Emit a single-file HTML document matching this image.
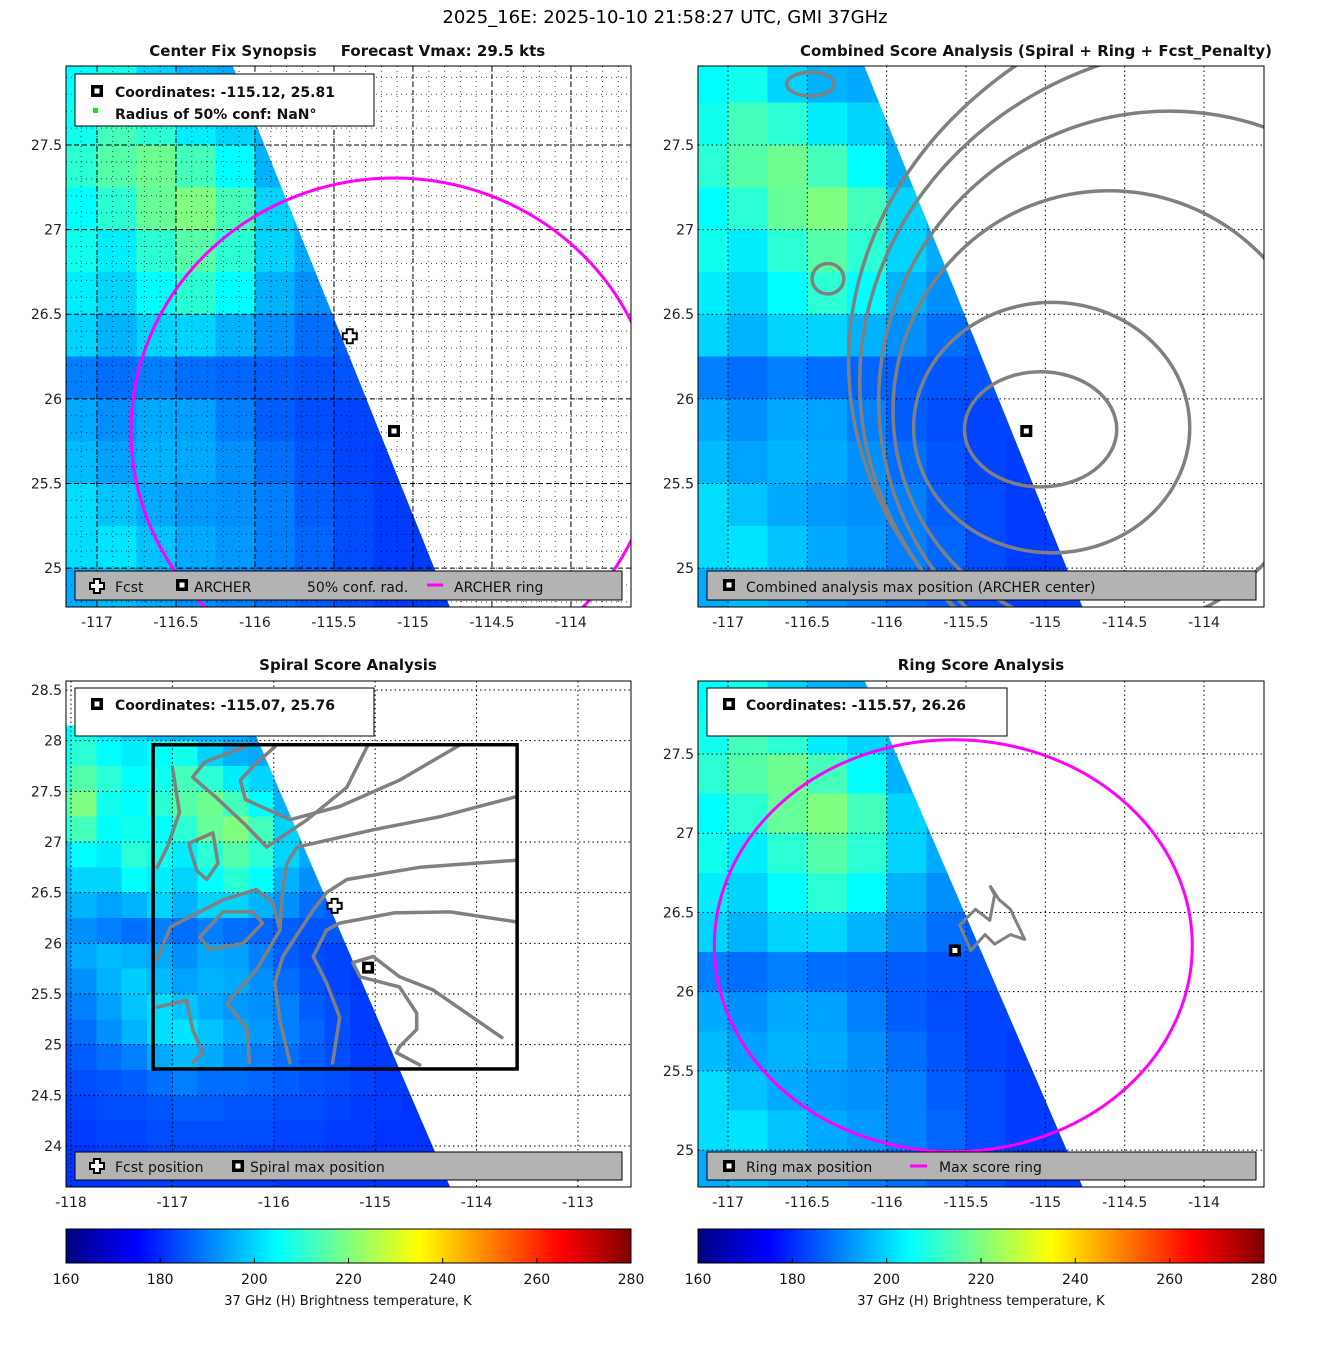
<!DOCTYPE html>
<html><head><meta charset="utf-8"><style>
html,body{margin:0;padding:0;background:#fff;}
svg{display:block;font-family:"DejaVu Sans","Liberation Sans",sans-serif;}
</style></head><body>
<svg id="fig" width="1317" height="1350" viewBox="0 0 1317 1350" xmlns="http://www.w3.org/2000/svg">
<defs>
<linearGradient id="jet" x1="0" x2="1" y1="0" y2="0">
<stop offset="0" stop-color="#000080"/><stop offset="0.125" stop-color="#0000ff"/><stop offset="0.375" stop-color="#00ffff"/><stop offset="0.625" stop-color="#ffff00"/><stop offset="0.875" stop-color="#ff0000"/><stop offset="1" stop-color="#800000"/>
</linearGradient>
</defs>
<text x="665" y="23" font-size="18" text-anchor="middle">2025_16E: 2025-10-10 21:58:27 UTC, GMI 37GHz</text>
<g id="root"></g>
</svg>
<script>
// ---- data ----
const tbGridLonLeft = -118.25, tbGridLatTop = 28.75, tbGridStep = 0.25;
const tbRows = [
"0 0 0 0 0 0 0 0 0 0 0 0 0 0 0 0",
"200 203 201 197 195 193 192 192 0 0 0 0 0 0 0 0",
"205 207 203 200 197 196 196 195 192 0 0 0 0 0 0 0",
"207 210 205 203 205 207 200 196 195 193 0 0 0 0 0 0",
"210 215 210 205 207 213 210 203 200 196 0 0 0 0 0 0",
"215 220 207 205 210 215 218 213 205 196 0 0 0 0 0 0",
"210 213 205 207 205 210 217 220 213 200 195 0 0 0 0 0",
"200 205 203 210 207 203 210 215 210 200 195 0 0 0 0 0",
"196 200 200 205 203 200 205 210 205 196 192 188 0 0 0 0",
"194 196 194 196 200 196 200 200 196 192 188 186 0 0 0 0",
"192 192 190 188 190 188 190 188 187 186 185 185 184 0 0 0",
"192 195 197 196 195 192 195 194 190 186 184 183 183 0 0 0",
"190 192 196 199 197 194 196 195 192 188 185 183 182 0 0 0",
"188 190 194 198 201 198 195 193 192 190 186 184 182 182 0 0",
"186 188 192 196 201 202 198 195 193 190 187 184 182 182 0 0",
"184 186 188 190 195 197 195 192 190 188 186 184 182 182 0 0",
"183 184 185 186 188 190 188 188 187 186 185 184 183 182 182 0",
"182 183 184 184 185 186 186 185 185 184 184 183 182 182 181 0",
"181 182 183 183 184 184 184 184 184 183 183 182 182 181 181 181",
"181 181 182 182 183 183 183 183 182 182 182 181 181 181 181 181",
"181 181 181 182 182 182 182 182 182 181 181 181 181 181 181 181"
];
const swathTopLat = 28.15, swathEdgeRefLat = 26.5, swathEdgeRefLon = -115.51, swathEdgeSlope = 0.43;
const archerPos = [-115.12, 25.81];
const fcstPos = [-115.4, 26.37];
const spiralMax = [-115.07, 25.76];
const ringMax = [-115.57, 26.26];
const ringP1 = [1.665, 1.495];
const ringP4Center = [-115.58, 26.29];
const ringP4 = [1.506, 1.3];
const combCx = [-115.03, -114.96, -114.6, -114.22, -113.84, -113.4, -116.37, -116.48];
const combCy = [25.82, 25.83, 25.93, 25.99, 26.1, 26.22, 26.71, 27.86];
const combRx = [0.48, 0.87, 1.36, 1.83, 2.33, 2.84, 0.1, 0.15];
const combRy = [0.34, 0.74, 1.3, 1.71, 2.0, 2.25, 0.09, 0.07];
const spiralContours = [
[[-113.60,27.45],[-114.36,27.25],[-115.02,27.12],[-115.77,26.95],[-115.87,26.79],[-115.91,26.56],[-115.94,26.13],[-116.17,25.74],[-116.46,25.41],[-116.26,25.15],[-116.24,24.82]],
[[-113.60,26.82],[-114.56,26.75],[-115.28,26.63],[-115.48,26.50],[-115.61,26.33],[-115.74,26.13],[-115.91,25.87],[-115.99,25.61],[-115.94,25.24],[-115.84,24.82]],
[[-113.60,26.21],[-114.26,26.31],[-114.81,26.30],[-115.35,26.20],[-115.48,26.13],[-115.61,25.87],[-115.48,25.61],[-115.35,25.27],[-115.42,24.82]],
[[-113.75,25.07],[-114.43,25.54],[-114.76,25.67],[-115.02,25.87],[-115.22,25.81],[-115.15,25.67],[-114.76,25.57],[-114.59,25.31],[-114.59,25.15],[-114.76,24.98],[-114.79,24.92],[-114.56,24.80]],
[[-114.16,27.96],[-114.76,27.61],[-115.35,27.35],[-115.84,27.22],[-116.28,27.42],[-116.33,27.61],[-116.19,27.76],[-115.99,27.94]],
[[-115.08,27.94],[-115.28,27.54],[-115.67,27.22],[-116.07,26.95],[-116.28,27.17],[-116.58,27.45],[-116.80,27.64],[-116.68,27.79],[-116.28,27.94]],
[[-117.00,27.74],[-116.93,27.29],[-117.05,26.95],[-117.15,26.75]],
[[-116.83,26.99],[-116.60,27.09],[-116.55,26.79],[-116.66,26.63],[-116.76,26.72],[-116.83,26.95],[-116.83,26.99]],
[[-116.73,26.06],[-116.50,26.31],[-116.21,26.31],[-116.11,26.20],[-116.30,26.00],[-116.63,25.94],[-116.73,26.06]],
[[-117.15,25.84],[-117.02,26.16],[-116.50,26.43],[-116.17,26.53],[-116.01,26.40],[-115.94,26.13]],
[[-117.15,25.37],[-116.86,25.44],[-116.80,25.15],[-116.70,24.92],[-116.80,24.82]]
];
const spiralBoxLon = [-117.19, -113.60];
const spiralBoxLat = [27.96, 24.76];
const ringContour = [[-115.35,26.67],[-115.29,26.58],[-115.22,26.52],[-115.13,26.33],[-115.22,26.36],[-115.32,26.30],[-115.38,26.36],[-115.47,26.26],[-115.54,26.42],[-115.44,26.52],[-115.35,26.45],[-115.32,26.61],[-115.35,26.67]];
const xTicksA = [-117, -116.5, -116, -115.5, -115, -114.5, -114];
const yTicksA = [25, 25.5, 26, 26.5, 27, 27.5];
const xTicksB = [-118, -117, -116, -115, -114, -113];
const yTicksB = [24, 24.5, 25, 25.5, 26, 26.5, 27, 27.5, 28, 28.5];
const cbTicks = [160, 180, 200, 220, 240, 260, 280];

// ---- helpers ----
const NS = "http://www.w3.org/2000/svg";
const root = document.getElementById('root');
function mk(tag, attrs, parent) {
  const e = document.createElementNS(NS, tag);
  for (const k in attrs) e.setAttribute(k, attrs[k]);
  (parent || root).appendChild(e);
  return e;
}
function jet(v) {
  let t = (v - 160) / 120; t = Math.max(0, Math.min(1, t));
  const f = (c) => Math.max(0, Math.min(1, 1.5 - Math.abs(4 * t - c)));
  return `rgb(${Math.round(255*f(3))},${Math.round(255*f(2))},${Math.round(255*f(1))})`;
}
const tbGrid = tbRows.map(r => r.split(' ').map(Number));
function edgeLon(lat) { return swathEdgeRefLon + (swathEdgeRefLat - lat) * swathEdgeSlope; }

function makePanel(id, x0, x1, y0, y1, lonMin, lonMax, latMin, latMax) {
  const P = {id, x0, x1, y0, y1};
  P.x = (lon) => x0 + (lon - lonMin) / (lonMax - lonMin) * (x1 - x0);
  P.y = (lat) => y0 + (latMax - lat) / (latMax - latMin) * (y1 - y0);
  P.g = mk('g', {});
  
  
  const cp = mk('clipPath', {id: id + '-clip'}, P.g);
  mk('rect', {x: x0, y: y0, width: x1 - x0, height: y1 - y0}, cp);
  const sp = mk('clipPath', {id: id + '-swath'}, P.g);
  const pts = [[-119, swathTopLat], [edgeLon(swathTopLat), swathTopLat], [edgeLon(22), 22], [-119, 22]];
  mk('polygon', {points: pts.map(p => P.x(p[0]) + ',' + P.y(p[1])).join(' ')}, sp);
  P.inner = mk('g', {'clip-path': `url(#${id}-clip)`}, P.g);
  return P;
}
function drawHeat(P) {
  const hg = mk('g', {'clip-path': `url(#${P.id}-swath)`, 'shape-rendering': 'crispEdges'}, P.inner);
  
  
  tbGrid.forEach((row, i) => row.forEach((v, j) => {
    if (!v) return;
    const lonL = tbGridLonLeft + j * tbGridStep, latT = tbGridLatTop - i * tbGridStep;
    const xa = P.x(lonL), xb = P.x(lonL + tbGridStep), ya = P.y(latT), yb = P.y(latT - tbGridStep);
    const r = mk('rect', {x: xa, y: ya, width: xb - xa + 0.6, height: yb - ya + 0.6, fill: jet(v)}, hg);
    
    
  }));
}
function drawGrid(P, xt, yt, dense) {
  const gg = mk('g', {}, P.inner);
  
  
  if (dense) {
    for (let lon = -118; lon <= -113; lon += 0.1) {
      const x = P.x(lon); if (x < P.x0 || x > P.x1) continue;
      mk('line', {x1: x, x2: x, y1: P.y0, y2: P.y1, stroke: '#000', 'stroke-width': 1, 'stroke-dasharray': '1,4', opacity: 0.7}, gg);
    }
    for (let lat = 24.5; lat <= 28.5; lat += 0.1) {
      const y = P.y(lat); if (y < P.y0 || y > P.y1) continue;
      mk('line', {x1: P.x0, x2: P.x1, y1: y, y2: y, stroke: '#000', 'stroke-width': 1, 'stroke-dasharray': '1,4', opacity: 0.7}, gg);
    }
  }
  const da = dense ? '5,3' : '1.5,3';
  xt.forEach(v => { const x = P.x(v); mk('line', {x1: x, x2: x, y1: P.y0, y2: P.y1, stroke: '#000', 'stroke-width': 1, 'stroke-dasharray': da}, gg); });
  yt.forEach(v => { const y = P.y(v); mk('line', {x1: P.x0, x2: P.x1, y1: y, y2: y, stroke: '#000', 'stroke-width': 1, 'stroke-dasharray': da}, gg); });
}
function drawAxes(P, xt, yt, xLabelY) {
  const b = mk('rect', {x: P.x0, y: P.y0, width: P.x1 - P.x0, height: P.y1 - P.y0, fill: 'none', stroke: '#000', 'stroke-width': 1}, P.g);
  
  
  xt.forEach(v => {
    const t = mk('text', {x: P.x(v), y: xLabelY, 'font-size': 14, 'text-anchor': 'middle', fill: '#222'}, P.g);
    t.textContent = String(v);
    
    
  });
  yt.forEach(v => {
    const t = mk('text', {x: P.x0 - 4, y: P.y(v) + 5, 'font-size': 14, 'text-anchor': 'end', fill: '#222'}, P.g);
    t.textContent = String(v);
    
    
  });
}
function squareMarker(parent, x, y) {
  const g = mk('g', {}, parent);
  mk('rect', {x: x - 6, y: y - 6, width: 12, height: 12, fill: '#000'}, g);
  mk('rect', {x: x - 2.5, y: y - 2.5, width: 5, height: 5, fill: '#fff'}, g);
  return g;
}
function plusMarker(parent, x, y) {
  const g = mk('g', {}, parent);
  const d = `M${x-3},${y-7}h6v4h4v6h-4v4h-6v-4h-4v-6h4z`;
  mk('path', {d, fill: '#fff', stroke: '#000', 'stroke-width': 2}, g);
  return g;
}
function txt(parent, x, y, s, size, bold, anchor) {
  const t = mk('text', {x, y, 'font-size': size, 'font-weight': bold ? 'bold' : 'normal', 'text-anchor': anchor || 'start', fill: '#111'}, parent);
  t.textContent = s;
  return t;
}
function polyPath(P, pts) { return pts.map((p, i) => (i ? 'L' : 'M') + P.x(p[0]).toFixed(1) + ',' + P.y(p[1]).toFixed(1)).join(''); }
function ellipse(P, cx, cy, rx, ry, parent, color, w) {
  return mk('ellipse', {cx: P.x(cx), cy: P.y(cy), rx: Math.abs(P.x(cx + rx) - P.x(cx)), ry: Math.abs(P.y(cy + ry) - P.y(cy)), fill: 'none', stroke: color, 'stroke-width': w}, parent);
}

// ---- panels ----
const P1 = makePanel('center-fix-panel', 66, 631, 66, 607, -117.196, -113.62, 24.77, 27.967);
const P2 = makePanel('combined-score-panel', 698, 1264, 66, 607, -117.189, -113.622, 24.77, 27.967);
const P3 = makePanel('spiral-score-panel', 66, 631, 681, 1187, -118.049, -112.477, 23.595, 28.589);
const P4 = makePanel('ring-score-panel', 698, 1264, 681, 1187, -117.189, -113.622, 24.767, 27.961);

[P1, P2, P3, P4].forEach(drawHeat);
drawGrid(P1, xTicksA, yTicksA, true);
drawGrid(P2, xTicksA, yTicksA, false);
drawGrid(P3, xTicksB, yTicksB, false);
drawGrid(P4, xTicksA, yTicksA, false);

let e = ellipse(P1, archerPos[0], archerPos[1], ringP1[0], ringP1[1], P1.inner, '#ff00ff', 3);
 
combCx.forEach((cx, i) => {
  const c = ellipse(P2, cx, combCy[i], combRx[i], combRy[i], P2.inner, '#808080', 3.5);
  
  
});
spiralContours.forEach(pts => {
  const c = mk('path', {d: polyPath(P3, pts), fill: 'none', stroke: '#808080', 'stroke-width': 3.5, 'stroke-linejoin': 'round', 'stroke-linecap': 'round'}, P3.inner);
  
  
});
const bx = mk('rect', {x: P3.x(spiralBoxLon[0]), y: P3.y(spiralBoxLat[0]), width: P3.x(spiralBoxLon[1]) - P3.x(spiralBoxLon[0]), height: P3.y(spiralBoxLat[1]) - P3.y(spiralBoxLat[0]), fill: 'none', stroke: '#000', 'stroke-width': 3.5}, P3.inner);


e = ellipse(P4, ringP4Center[0], ringP4Center[1], ringP4[0], ringP4[1], P4.inner, '#ff00ff', 3);
 
const rc = mk('path', {d: polyPath(P4, ringContour), fill: 'none', stroke: '#808080', 'stroke-width': 3, 'stroke-linejoin': 'round'}, P4.inner);



let m;
m = plusMarker(P1.inner, P1.x(fcstPos[0]), P1.y(fcstPos[1]));
 
m = squareMarker(P1.inner, P1.x(archerPos[0]), P1.y(archerPos[1]));
 
m = squareMarker(P2.inner, P2.x(archerPos[0]), P2.y(archerPos[1]));
 
m = plusMarker(P3.inner, P3.x(fcstPos[0]), P3.y(fcstPos[1]));
 
m = squareMarker(P3.inner, P3.x(spiralMax[0]), P3.y(spiralMax[1]));
 
m = squareMarker(P4.inner, P4.x(ringMax[0]), P4.y(ringMax[1]));
 

drawAxes(P1, xTicksA, yTicksA, 627);
drawAxes(P2, xTicksA, yTicksA, 627);
drawAxes(P3, xTicksB, yTicksB, 1207);
drawAxes(P4, xTicksA, yTicksA, 1207);

let t;
t = txt(root, 233, 56, 'Center Fix Synopsis', 15, true, 'middle');  
t = txt(root, 443, 56, 'Forecast Vmax: 29.5 kts', 15, true, 'middle');  
t = txt(root, 1036, 56, 'Combined Score Analysis (Spiral + Ring + Fcst_Penalty)', 15, true, 'middle');  
t = txt(root, 348, 670, 'Spiral Score Analysis', 15, true, 'middle');  
t = txt(root, 981, 670, 'Ring Score Analysis', 15, true, 'middle');  

function infoBox(x, y, w, h) {
  const g = mk('g', {});
  mk('rect', {x, y, width: w, height: h, fill: '#fff', stroke: '#000', 'stroke-width': 1}, g);
  return g;
}
let ib = infoBox(75, 74, 299, 52);
 
squareMarker(ib, 97, 91); txt(ib, 115, 97, 'Coordinates: -115.12, 25.81', 14, true);
mk('rect', {x: 93, y: 108, width: 5, height: 5, fill: '#00ee00'}, ib); txt(ib, 115, 119, 'Radius of 50% conf: NaN°', 14, true);
ib = infoBox(75, 688, 299, 48);
 
squareMarker(ib, 97, 704); txt(ib, 115, 710, 'Coordinates: -115.07, 25.76', 14, true);
ib = infoBox(707, 688, 300, 48);
 
squareMarker(ib, 729, 704); txt(ib, 746, 710, 'Coordinates: -115.57, 26.26', 14, true);

function legBox(x, y, w, h) {
  const g = mk('g', {});
  mk('rect', {x, y, width: w, height: h, fill: '#b3b3b3', stroke: '#000', 'stroke-width': 1}, g);
  return g;
}
let lg = legBox(75, 571, 547, 29);
 
plusMarker(lg, 97, 586); txt(lg, 115, 592, 'Fcst', 14);
squareMarker(lg, 182, 585); txt(lg, 194, 592, 'ARCHER', 14);
txt(lg, 307, 592, '50% conf. rad.', 14);
mk('line', {x1: 427, x2: 443, y1: 585, y2: 585, stroke: '#ff00ff', 'stroke-width': 3}, lg); txt(lg, 454, 592, 'ARCHER ring', 14);
lg = legBox(707, 571, 549, 29);
 
squareMarker(lg, 729, 585); txt(lg, 746, 592, 'Combined analysis max position (ARCHER center)', 14);
lg = legBox(75, 1152, 547, 28);
 
plusMarker(lg, 97, 1166); txt(lg, 115, 1172, 'Fcst position', 14);
squareMarker(lg, 238, 1166); txt(lg, 250, 1172, 'Spiral max position', 14);
lg = legBox(707, 1152, 549, 28);
 
squareMarker(lg, 729, 1166); txt(lg, 746, 1172, 'Ring max position', 14);
mk('line', {x1: 910, x2: 927, y1: 1166, y2: 1166, stroke: '#ff00ff', 'stroke-width': 3}, lg); txt(lg, 939, 1172, 'Max score ring', 14);

[[66, 631, 348], [698, 1264, 981]].forEach(([a, b, c]) => {
  const g = mk('g', {});
  
  
  mk('rect', {x: a, y: 1229, width: b - a, height: 34, fill: 'url(#jet)', stroke: '#000', 'stroke-width': 1}, g);
  cbTicks.forEach(v => {
    const x = a + (v - 160) / 120 * (b - a);
    mk('line', {x1: x, x2: x, y1: 1258, y2: 1263, stroke: '#000'}, g);
    txt(g, x, 1284, String(v), 14, false, 'middle');
  });
  txt(g, c, 1305, '37 GHz (H) Brightness temperature, K', 13, false, 'middle');
});
</script>
</body></html>
